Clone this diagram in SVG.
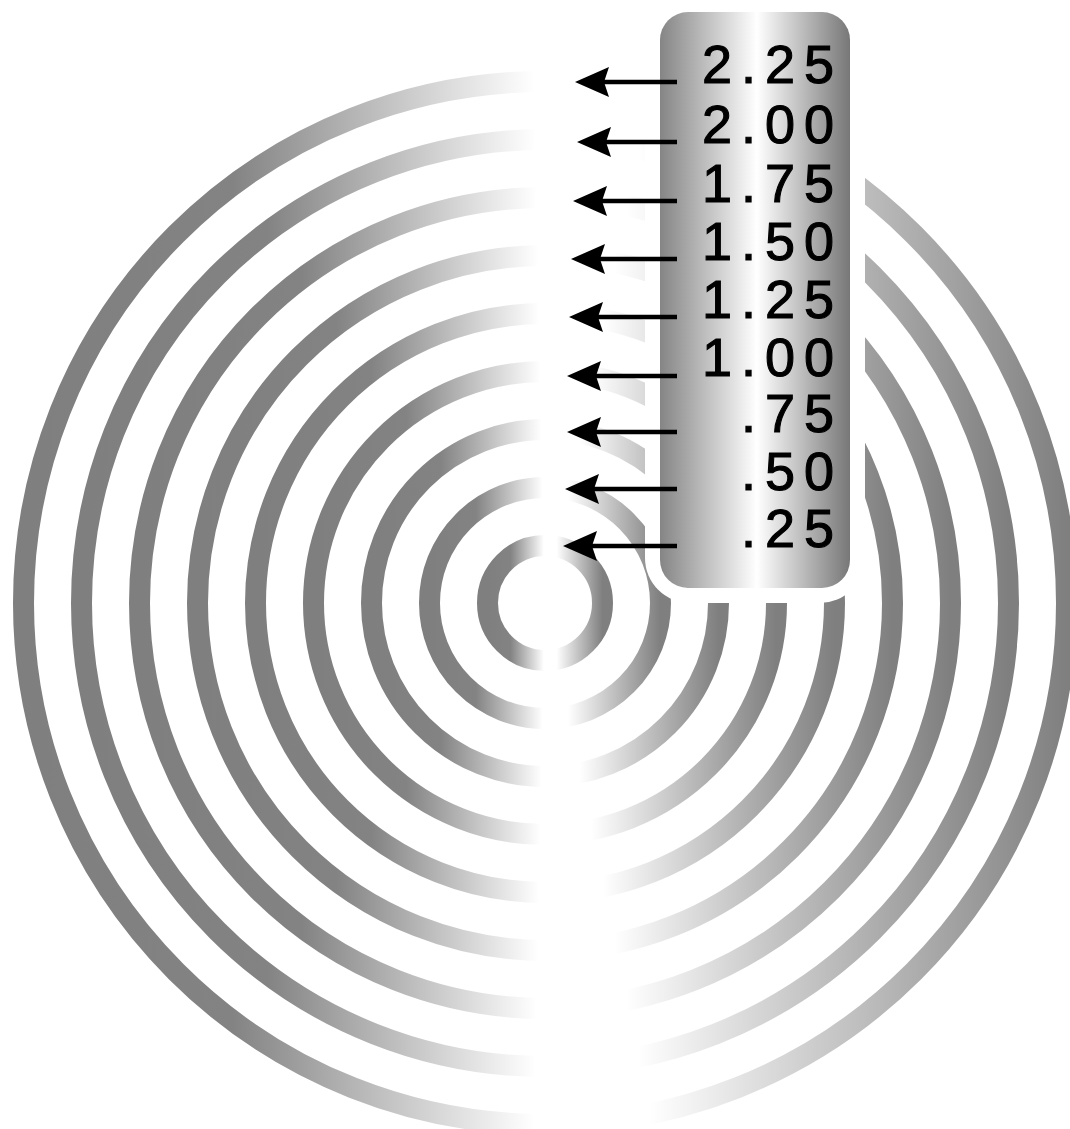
<svg xmlns="http://www.w3.org/2000/svg" width="1070" height="1129" viewBox="0 0 1070 1129">
  <defs>
    <linearGradient id="ringGrad" x1="0" y1="0" x2="1" y2="0">
      <stop offset="0" stop-color="#7f7f7f"/>
      <stop offset="0.2" stop-color="#838383"/>
      <stop offset="0.49" stop-color="#ffffff"/>
      <stop offset="0.6" stop-color="#ffffff"/>
      <stop offset="1" stop-color="#7f7f7f"/>
    </linearGradient>
    <linearGradient id="boxGrad" x1="0" y1="0" x2="1" y2="0">
      <stop offset="0" stop-color="#858585"/>
      <stop offset="0.51" stop-color="#ffffff"/>
      <stop offset="1" stop-color="#777777"/>
    </linearGradient>
    <marker id="arrow" markerUnits="userSpaceOnUse" markerWidth="34" markerHeight="30" viewBox="0 0 34 30" refX="5" refY="15" orient="auto" overflow="visible">
      <path d="M34,15 L0,0 L5,15 L0,30 Z" fill="#000"/>
    </marker>
    <style>
      .ring { fill: none; stroke: url(#ringGrad); stroke-width: 21; }
      .lbl { font-family: "Liberation Sans", Arial, sans-serif; font-size: 54px; letter-spacing: 9px; fill: #000; stroke: #000; stroke-width: 1.1px; text-anchor: end; }
      .conn { stroke: #000; stroke-width: 4.5; fill: none; marker-end: url(#arrow); }
    </style>
  </defs>
  <rect width="1070" height="1129" fill="#ffffff"/>
  <g id="rings">
    <circle class="ring" cx="545" cy="603" r="521.5"/>
    <circle class="ring" cx="545" cy="603" r="463.5"/>
    <circle class="ring" cx="545" cy="603" r="405.5"/>
    <circle class="ring" cx="545" cy="603" r="347.5"/>
    <circle class="ring" cx="545" cy="603" r="289.5"/>
    <circle class="ring" cx="545" cy="603" r="231.5"/>
    <circle class="ring" cx="545" cy="603" r="173.5"/>
    <circle class="ring" cx="545" cy="603" r="115.5"/>
    <circle class="ring" cx="545" cy="603" r="57.5"/>
  </g>
  <g id="scale-box">
    <rect x="645" y="-60" width="220" height="663" rx="45" fill="#ffffff"/>
    <rect x="660" y="12" width="190" height="576" rx="28" fill="url(#boxGrad)"/>
  </g>
  <g id="connectors">
    <line class="conn" x1="677" y1="82" x2="604" y2="82"/>
    <line class="conn" x1="677" y1="142" x2="606" y2="142"/>
    <line class="conn" x1="677" y1="201" x2="602" y2="201"/>
    <line class="conn" x1="677" y1="259" x2="600" y2="259"/>
    <line class="conn" x1="677" y1="317" x2="598" y2="317"/>
    <line class="conn" x1="677" y1="376" x2="596" y2="376"/>
    <line class="conn" x1="677" y1="432" x2="596" y2="432"/>
    <line class="conn" x1="677" y1="489" x2="594" y2="489"/>
    <line class="conn" x1="677" y1="546" x2="592" y2="546"/>
  </g>
  <g id="label-225"><text class="lbl" x="843" y="83">2.25</text></g>
  <g id="label-200"><text class="lbl" x="843" y="143">2.00</text></g>
  <g id="label-175"><text class="lbl" x="843" y="202">1.75</text></g>
  <g id="label-150"><text class="lbl" x="843" y="260">1.50</text></g>
  <g id="label-125"><text class="lbl" x="843" y="318">1.25</text></g>
  <g id="label-100"><text class="lbl" x="843" y="376">1.00</text></g>
  <g id="label-075"><text class="lbl" x="843" y="432">.75</text></g>
  <g id="label-050"><text class="lbl" x="843" y="490">.50</text></g>
  <g id="label-025"><text class="lbl" x="843" y="547">.25</text></g>
</svg>
